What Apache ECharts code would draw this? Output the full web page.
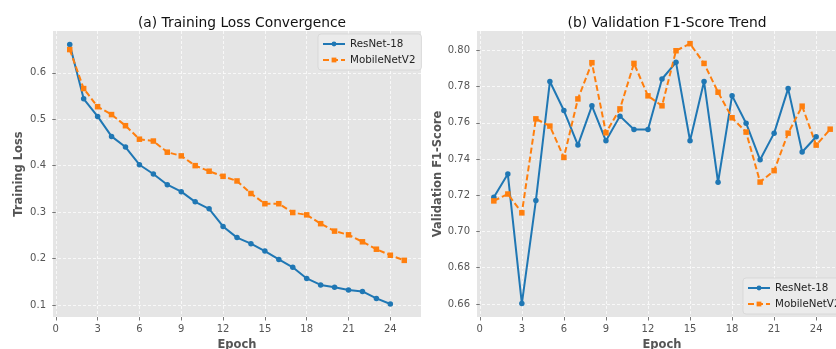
<!DOCTYPE html>
<html>
<head>
<meta charset="utf-8">
<script src="https://cdn.jsdelivr.net/npm/echarts@6/dist/echarts.min.js"></script>
<style>
html,body{margin:0;padding:0;background:#fff;}
#c{width:836px;height:349px;}
</style>
</head>
<body>
<div id="c"></div>
<script>
// ---- data ----
const epochs = [1,2,3,4,5,6,7,8,9,10,11,12,13,14,15,16,17,18,19,20,21,22,23,24,25];
const lossResNet = [0.661,0.544,0.506,0.463,0.440,0.402,0.382,0.359,0.344,0.322,0.307,0.269,0.245,0.232,0.216,0.198,0.181,0.157,0.143,0.138,0.132,0.129,0.114,0.102];
const lossMobile = [0.650,0.566,0.527,0.510,0.486,0.457,0.453,0.429,0.421,0.400,0.388,0.377,0.367,0.340,0.318,0.318,0.299,0.294,0.275,0.259,0.251,0.236,0.220,0.207,0.196];
const f1ResNet = [0.7189,0.7317,0.6602,0.7171,0.7828,0.7668,0.7477,0.7694,0.7501,0.7637,0.7563,0.7563,0.7842,0.7934,0.7501,0.7828,0.7272,0.7750,0.7598,0.7396,0.7543,0.7789,0.7439,0.7523];
const f1Mobile = [0.7169,0.7207,0.7103,0.7622,0.7582,0.7409,0.7732,0.7932,0.7545,0.7677,0.7928,0.7749,0.7694,0.7998,0.8037,0.7928,0.7769,0.7628,0.7549,0.7273,0.7336,0.7543,0.7692,0.7477,0.7565];
const xTicks = [0,3,6,9,12,15,18,21,24];
const lossTicks = [0.1,0.2,0.3,0.4,0.5,0.6];
const f1Ticks = [0.66,0.68,0.70,0.72,0.74,0.76,0.78,0.80];
const titles = ['(a) Training Loss Convergence','(b) Validation F1-Score Trend'];
const seriesNames = ['ResNet-18','MobileNetV2'];

const BLUE = '#1f77b4', ORANGE = '#ff7f0e';
const FONT = 'DejaVu Sans';
const pairs = (xs, ys) => ys.map((v,i)=>[xs[i], v]);

function xAxisDef(idx){
  return {
    type:'value', gridIndex:idx, min:-0.2, max:26.2,
    name:'Epoch', nameLocation:'middle', nameGap:20,
    nameTextStyle:{fontFamily:FONT,fontSize:11.5,fontWeight:'bold',color:'#555'},
    axisLine:{show:false},
    axisTick:{show:true,customValues:xTicks,length:3.5,lineStyle:{color:'#555',width:0.8}},
    axisLabel:{customValues:xTicks,fontFamily:FONT,fontSize:10,color:'#555',margin:7},
    splitLine:{show:true,lineStyle:{color:'rgba(255,255,255,0.9)',type:[3,2],width:0.8}}
  };
}
function yAxisDef(idx,min,max,ticks,dec,name,gap){
  return {
    type:'value', gridIndex:idx, min:min, max:max,
    name:name, nameLocation:'middle', nameGap:gap,
    nameTextStyle:{fontFamily:FONT,fontSize:11.5,fontWeight:'bold',color:'#555'},
    axisLine:{show:false},
    axisTick:{show:true,customValues:ticks,length:3.5,lineStyle:{color:'#555',width:0.8}},
    axisLabel:{customValues:ticks,fontFamily:FONT,fontSize:10,color:'#555',margin:7,
      formatter:v=>v.toFixed(dec)},
    splitLine:{show:true,lineStyle:{color:'rgba(255,255,255,0.9)',type:[3,2],width:0.8}}
  };
}
function lineSeries(name,idx,data,color,symbol,dashed){
  return {
    name:name, type:'line', xAxisIndex:idx, yAxisIndex:idx, data:data,
    symbol:symbol, symbolSize: 5.5, showSymbol:true,
    lineStyle:{color:color,width:2,type:dashed?[6,3]:'solid'},
    itemStyle:{color:color},
    emphasis:{disabled:true}, animation:false
  };
}
const legendBase = {
  orient:'vertical', itemWidth:22, itemHeight:6, itemGap:6,
  backgroundColor:'rgba(235,235,235,0.9)', borderColor:'#d4d4d4', borderWidth:0.8, borderRadius:3,
  padding:[5,6,5,4],
  textStyle:{fontFamily:FONT,fontSize:10.3,color:'#222'},
  data:seriesNames
};

const chart = echarts.init(document.getElementById('c'), null, {renderer:'canvas'});
chart.setOption({
  animation:false,
  title:[
    {text:titles[0],left:237,top:11,textAlign:'center',textStyle:{fontFamily:FONT,fontSize:13.8,fontWeight:'normal',color:'#111'}},
    {text:titles[1],left:662,top:11,textAlign:'center',textStyle:{fontFamily:FONT,fontSize:13.8,fontWeight:'normal',color:'#111'}}
  ],
  legend:[
    Object.assign({},legendBase,{left:318,top:34}),
    Object.assign({},legendBase,{left:743,top:278})
  ],
  grid:[
    {left:53,top:31,width:368,height:286,show:true,backgroundColor:'#e5e5e5',borderWidth:0,containLabel:false,outerBoundsMode:'none'},
    {left:477,top:31,width:370,height:286,show:true,backgroundColor:'#e5e5e5',borderWidth:0,containLabel:false,outerBoundsMode:'none'}
  ],
  xAxis:[xAxisDef(0),xAxisDef(1)],
  yAxis:[
    yAxisDef(0,0.074,0.690,lossTicks,1,'Training Loss',28),
    yAxisDef(1,0.6528,0.8107,f1Ticks,2,'Validation F1-Score',33)
  ],
  series:[
    lineSeries(seriesNames[0],0,pairs(epochs,lossResNet),BLUE,'circle',false),
    lineSeries(seriesNames[1],0,pairs(epochs,lossMobile),ORANGE,'rect',true),
    lineSeries(seriesNames[0],1,pairs(epochs,f1ResNet),BLUE,'circle',false),
    lineSeries(seriesNames[1],1,pairs(epochs,f1Mobile),ORANGE,'rect',true)
  ]
});
</script>
</body>
</html>
